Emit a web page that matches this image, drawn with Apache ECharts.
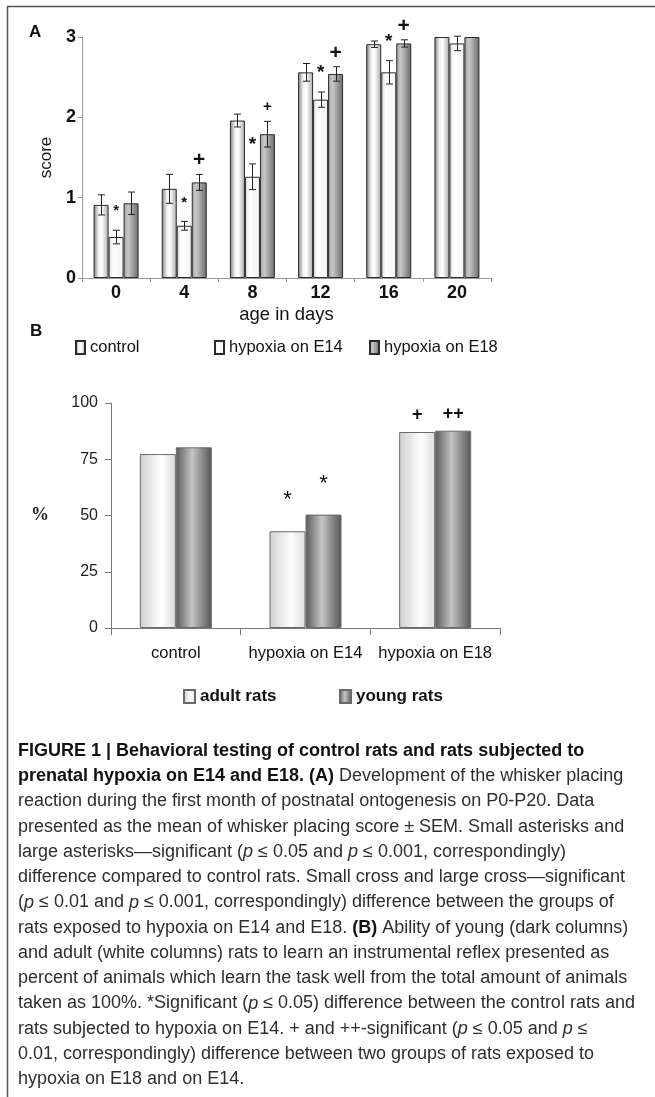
<!DOCTYPE html>
<html>
<head>
<meta charset="utf-8">
<script src="https://cdn.jsdelivr.net/npm/echarts@6/dist/echarts.min.js"></script>
<style>
html,body{margin:0;padding:0;background:#fff;}
#chart{width:655px;height:1097px;}
</style>
</head>
<body>
<div id="chart"></div>
<script>
// ---------- Panel A data ----------
const categoriesA = ['0', '4', '8', '12', '16', '20'];
const seriesNamesA = ['control', 'hypoxia on E14', 'hypoxia on E18'];
const controlScore = [0.91, 1.11, 1.96, 2.56, 2.91, 3.00];
const controlSem   = [0.125, 0.18, 0.08, 0.11, 0.04, 0];
const e14Score     = [0.51, 0.65, 1.26, 2.22, 2.56, 2.92];
const e14Sem       = [0.085, 0.055, 0.16, 0.095, 0.145, 0.09];
const e18Score     = [0.93, 1.19, 1.79, 2.54, 2.92, 3.00];
const e18Sem       = [0.14, 0.10, 0.16, 0.09, 0.045, 0];
// significance marks: '' none, 'small' / 'large'
const e14Asterisk  = ['small', 'small', 'large', 'large', 'large', ''];
const e18Cross     = ['', 'large', 'small', 'large', 'large', ''];
const yTicksA = [0, 1, 2, 3];

// ---------- Panel B data ----------
const categoriesB = ['control', 'hypoxia on E14', 'hypoxia on E18'];
const seriesNamesB = ['adult rats', 'young rats'];
const adultPct = [77.3, 43.0, 87.1];
const youngPct = [80.3, 50.4, 87.7];
const adultMarks = ['', '*', '+'];
const youngMarks = ['', '*', '++'];
const yTicksB = [0, 25, 50, 75, 100];

// ---------- caption ----------
const captionLines = [
  '{b|FIGURE 1 | Behavioral testing of control rats and rats subjected to}',
  '{b|prenatal hypoxia on E14 and E18. (A)} Development of the whisker placing',
  'reaction during the first month of postnatal ontogenesis on P0-P20. Data',
  'presented as the mean of whisker placing score ± SEM. Small asterisks and',
  'large asterisks\u2014significant ({i|p} ≤ 0.05 and {i|p} ≤ 0.001, correspondingly)',
  'difference compared to control rats. Small cross and large cross\u2014significant',
  '({i|p} ≤ 0.01 and {i|p} ≤ 0.001, correspondingly) difference between the groups of',
  'rats exposed to hypoxia on E14 and E18. {b|(B)} Ability of young (dark columns)',
  'and adult (white columns) rats to learn an instrumental reflex presented as',
  'percent of animals which learn the task well from the total amount of animals',
  'taken as 100%. *Significant ({i|p} ≤ 0.05) difference between the control rats and',
  'rats subjected to hypoxia on E14. + and ++-significant ({i|p} ≤ 0.05 and {i|p} ≤',
  '0.01, correspondingly) difference between two groups of rats exposed to',
  'hypoxia on E18 and on E14.'
];

// ---------- styles ----------
const FONT = 'Liberation Sans, Arial, sans-serif';
function hgrad(stops) {
  return new echarts.graphic.LinearGradient(0, 0, 1, 0,
    stops.map(s => ({offset: s[0], color: s[1]})));
}
const fillA = [
  hgrad([[0, '#7e7e7e'], [0.35, '#f4f4f4'], [0.55, '#ffffff'], [1, '#a8a8a8']]),
  hgrad([[0, '#d6d6d6'], [0.3, '#ffffff'], [1, '#f2f2f2']]),
  hgrad([[0, '#a0a0a0'], [0.3, '#c8c8c8'], [1, '#6a6a6a']])
];
const fillB = [
  hgrad([[0, '#cfcfcf'], [0.6, '#ffffff'], [1, '#dcdcdc']]),
  hgrad([[0, '#5a5a5a'], [0.45, '#c4c4c4'], [1, '#555555']])
];
const BAR_W_A = 15;
const BAR_W_B = 36;
const CAP_FS = 18;

const valuesA = [controlScore, e14Score, e18Score];
const semA = [controlSem, e14Sem, e18Sem];

// error-bar data: [categoryIndex, low, high, seriesIndex]
const errData = [];
valuesA.forEach((vals, s) => {
  vals.forEach((v, i) => {
    const e = semA[s][i];
    if (e > 0) errData.push([i, v - e, v + e, s]);
  });
});
// significance mark data: [categoryIndex, topValue, seriesIndex, text, level]
const markData = [];
e14Asterisk.forEach((lvl, i) => {
  if (lvl) markData.push([i, e14Score[i] + e14Sem[i], 1, '*', lvl]);
});
e18Cross.forEach((lvl, i) => {
  if (lvl) markData.push([i, e18Score[i] + e18Sem[i], 2, '+', lvl]);
});

const chart = echarts.init(document.getElementById('chart'), null, {renderer: 'canvas'});

function marksLabel(marks) {
  return p => {
    const m = marks[p.dataIndex];
    if (!m) return '';
    return m === '*' ? '{s|*}' : '{c|' + m + '}';
  };
}

const option = {
  backgroundColor: '#fff',
  animation: false,
  textStyle: {fontFamily: FONT},
  grid: [
    {left: 82, top: 37, width: 409, height: 241},
    {left: 111, top: 403, width: 389, height: 225}
  ],
  xAxis: [
    {
      gridIndex: 0, type: 'category', data: categoriesA,
      axisLine: {lineStyle: {color: '#9a9a9a', width: 1}},
      axisTick: {show: true, length: 4, lineStyle: {color: '#9a9a9a'}},
      axisLabel: {fontSize: 18, fontWeight: 'bold', color: '#111', margin: 6, fontFamily: FONT, interval: 0},
      name: 'age in days', nameLocation: 'middle', nameGap: 27,
      nameTextStyle: {fontSize: 18.5, color: '#111', fontFamily: FONT}
    },
    {
      gridIndex: 1, type: 'category', data: categoriesB,
      axisLine: {lineStyle: {color: '#7a7a7a', width: 1}},
      axisTick: {show: true, length: 7, lineStyle: {color: '#7a7a7a'}},
      axisLabel: {fontSize: 16.5, color: '#111', margin: 17, fontFamily: FONT, interval: 0}
    }
  ],
  yAxis: [
    {
      gridIndex: 0, type: 'value', min: 0, max: 3, interval: 1,
      axisLine: {show: true, lineStyle: {color: '#9a9a9a', width: 1}},
      axisTick: {show: true, length: 4, lineStyle: {color: '#9a9a9a'}},
      splitLine: {show: false},
      axisLabel: {fontSize: 18, fontWeight: 'bold', color: '#111', margin: 6,
        formatter: v => yTicksA.includes(v) ? String(v) : ''},
      name: 'score', nameLocation: 'middle', nameGap: 24, nameRotate: 90,
      nameTextStyle: {fontSize: 17, color: '#111', fontFamily: FONT}
    },
    {
      gridIndex: 1, type: 'value', min: 0, max: 100, interval: 25,
      axisLine: {show: true, lineStyle: {color: '#7a7a7a', width: 1}},
      axisTick: {show: true, length: 6, lineStyle: {color: '#7a7a7a'}},
      splitLine: {show: false},
      axisLabel: {fontSize: 16, color: '#222', margin: 13, fontFamily: FONT,
        formatter: v => yTicksB.includes(v) ? String(v) : ''},
      name: '%', nameLocation: 'middle', nameGap: 62, nameRotate: 0,
      nameTextStyle: {fontSize: 18, fontWeight: 'bold', color: '#222', fontFamily: 'Liberation Serif, serif',
        padding: [0, 0, 16, 0]}
    }
  ],
  legend: [
    {data: [seriesNamesA[0]], left: 75, top: 339},
    {data: [seriesNamesA[1]], left: 214, top: 339},
    {data: [seriesNamesA[2]], left: 369, top: 339},
    {data: [seriesNamesB[0]], left: 183, top: 688},
    {data: [seriesNamesB[1]], left: 339, top: 688}
  ].map((l, k) => Object.assign({
    icon: 'rect',
    itemWidth: k < 3 ? 9 : 11,
    itemHeight: 13,
    itemGap: 0,
    padding: 0,
    textStyle: k < 3
      ? {fontSize: 16.5, color: '#111', fontFamily: FONT}
      : {fontSize: 17, fontWeight: 'bold', color: '#111', fontFamily: FONT},
    selectedMode: false
  }, l)),
  series: [
    ...seriesNamesA.map((name, s) => ({
      name, type: 'bar', xAxisIndex: 0, yAxisIndex: 0,
      data: valuesA[s], barWidth: BAR_W_A, barGap: '0%',
      itemStyle: {color: fillA[s], borderColor: '#2a2a2a', borderWidth: 1}
    })),
    {
      type: 'custom', name: 'sem', xAxisIndex: 0, yAxisIndex: 0,
      data: errData, silent: true, z: 5,
      renderItem(params, api) {
        const i = api.value(0), s = api.value(3);
        const pLo = api.coord([i, api.value(1)]);
        const pHi = api.coord([i, api.value(2)]);
        const x = Math.round(pLo[0] + (s - 1) * BAR_W_A) + 0.5;
        const st = {stroke: '#222', lineWidth: 1};
        return {type: 'group', children: [
          {type: 'line', shape: {x1: x, y1: pLo[1], x2: x, y2: pHi[1]}, style: st},
          {type: 'line', shape: {x1: x - 3.5, y1: pLo[1], x2: x + 3.5, y2: pLo[1]}, style: st},
          {type: 'line', shape: {x1: x - 3.5, y1: pHi[1], x2: x + 3.5, y2: pHi[1]}, style: st}
        ]};
      }
    },
    {
      type: 'custom', name: 'marks', xAxisIndex: 0, yAxisIndex: 0,
      data: markData, silent: true, z: 6,
      renderItem(params, api) {
        const d = markData[params.dataIndex];
        const p = api.coord([d[0], d[1]]);
        const x = p[0] + (d[2] - 1) * BAR_W_A;
        const isStar = d[3] === '*';
        const large = d[4] === 'large';
        const size = isStar ? (large ? 19 : 15) : (large ? 21 : 15);
        const dy = isStar ? 19 : 14;
        return {type: 'text', style: {
          text: d[3], x, y: p[1] - dy, align: 'center', verticalAlign: 'middle',
          fontSize: size, fontWeight: 'bold', fill: '#111', fontFamily: FONT
        }};
      }
    },
    ...seriesNamesB.map((name, s) => ({
      name, type: 'bar', xAxisIndex: 1, yAxisIndex: 1,
      data: s === 0 ? adultPct : youngPct, barWidth: BAR_W_B, barGap: '0%',
      itemStyle: {color: fillB[s], borderColor: '#6a6a6a', borderWidth: 1},
      label: {
        show: true, position: 'top', distance: 8, color: '#111',
        fontFamily: FONT,
        formatter: marksLabel(s === 0 ? adultMarks : youngMarks),
        rich: {
          s: {fontSize: 22, fontWeight: 'normal', color: '#111', padding: [0, 0, 12, 0], fontFamily: FONT},
          c: {fontSize: 18, fontWeight: 'bold', color: '#111', fontFamily: FONT}
        }
      },
      labelLayout: {hideOverlap: false}
    }))
  ],
  graphic: [
    {type: 'line', shape: {x1: 7, y1: 6.5, x2: 655, y2: 6.5}, style: {stroke: '#555', lineWidth: 1.5}, silent: true},
    {type: 'line', shape: {x1: 7.5, y1: 6, x2: 7.5, y2: 1097}, style: {stroke: '#555', lineWidth: 1.5}, silent: true},
    {type: 'text', left: 29, top: 24, style: {text: 'A', fontSize: 17, fontWeight: 'bold', fill: '#111', fontFamily: FONT}},
    {type: 'text', left: 30, top: 323, style: {text: 'B', fontSize: 17, fontWeight: 'bold', fill: '#111', fontFamily: FONT}},
    ...captionLines.map((line, k) => ({
      type: 'text', left: 18, top: 742 + k * 25.25,
      style: {
        text: line, fontSize: CAP_FS, fill: '#2e2e2e', fontFamily: FONT,
        rich: {
          b: {fontWeight: 'bold', fontSize: CAP_FS, fill: '#111', fontFamily: FONT},
          i: {fontStyle: 'italic', fontSize: CAP_FS, fill: '#2e2e2e', fontFamily: FONT}
        }
      }
    }))
  ]
};

chart.setOption(option);
</script>
</body>
</html>
